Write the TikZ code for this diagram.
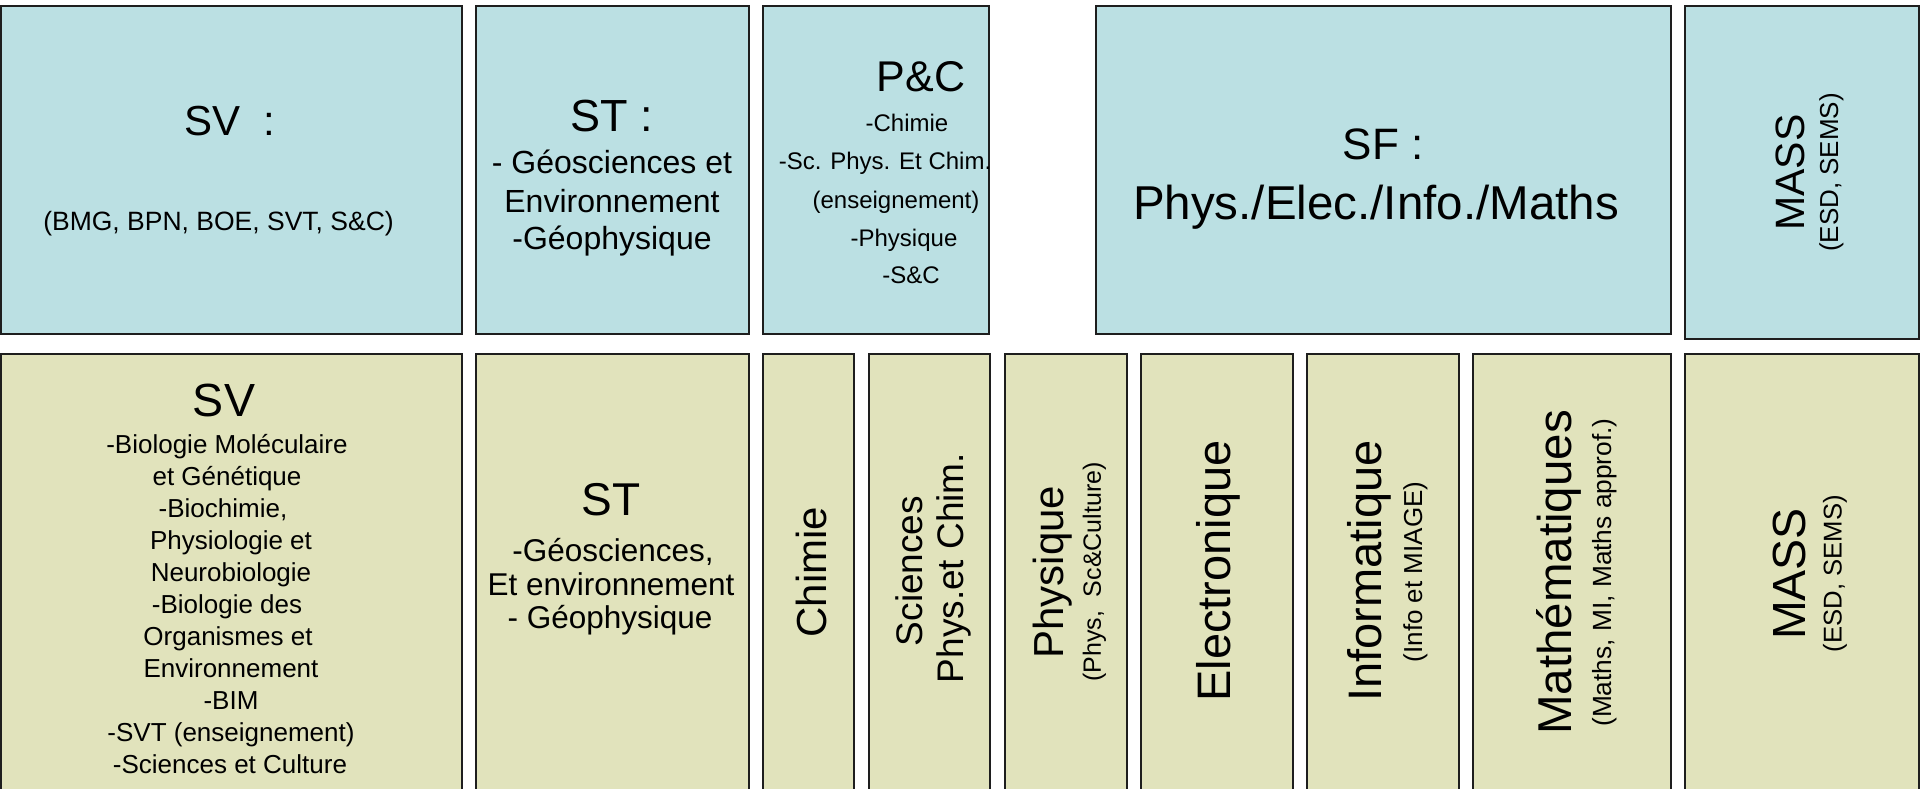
\documentclass[tikz,border=0pt]{standalone}
\usepackage{fontspec}
\setmainfont{Liberation Sans}
\definecolor{topfill}{HTML}{BBE0E3}
\definecolor{botfill}{HTML}{E1E3BC}
\definecolor{edge}{HTML}{1E1E1E}
\newcommand\fsz[1]{\fontsize{#1}{#1}\selectfont}
\tikzset{
  cell/.style={draw=edge, line width=2.2pt, outer sep=0pt, inner sep=0pt},
  topbox/.style={cell, fill=topfill},
  botbox/.style={cell, fill=botfill},
  lbl/.style={inner sep=0pt, anchor=base, text=black},
  rlbl/.style={inner sep=0pt, rotate=90, anchor=center, text=black},
}
\begin{document}
\begin{tikzpicture}[x=1pt, y=-1pt]
\useasboundingbox (0,0) rectangle (1920,789);
\clip (0,0) rectangle (1920,789);
% ---------- top row ----------
\node[topbox, minimum width=461pt, minimum height=328pt] (tSV)   at (231.5,170) {};
\node[topbox, minimum width=273pt, minimum height=328pt] (tST)   at (612.5,170) {};
\node[topbox, minimum width=226pt, minimum height=328pt] (tPC)   at (876,170) {};
\node[topbox, minimum width=575pt, minimum height=328pt] (tSF)   at (1383.5,170) {};
\node[topbox, minimum width=234pt, minimum height=333pt] (tMASS) at (1802,172.5) {};
% ---------- bottom row ----------
\node[botbox, minimum width=461pt, minimum height=456pt] (bSV) at (231.5,582) {};
\node[botbox, minimum width=273pt, minimum height=456pt] (bST) at (612.5,582) {};
\node[botbox, minimum width=91pt,  minimum height=456pt] (bCh) at (808.5,582) {};
\node[botbox, minimum width=121pt, minimum height=456pt] (bSc) at (929.5,582) {};
\node[botbox, minimum width=122pt, minimum height=456pt] (bPh) at (1066,582) {};
\node[botbox, minimum width=152pt, minimum height=456pt] (bEl) at (1217,582) {};
\node[botbox, minimum width=152pt, minimum height=456pt] (bIn) at (1383,582) {};
\node[botbox, minimum width=198pt, minimum height=456pt] (bMa) at (1572,582) {};
\node[botbox, minimum width=234pt, minimum height=456pt] (bMASS) at (1802,582) {};
% ---------- top labels ----------
\node[lbl, font=\fsz{42}] (tSVa) at (230,136) {SV\ \ :};
\node[lbl, font=\fsz{26.5}] (tSVb) at (218.5,230) {(BMG, BPN, BOE, SVT, S\&C)};
\node[lbl, font=\fsz{45}] (tSTa) at (612,132) {ST :};
\foreach \y/\t [count=\i] in {174/{- Géosciences et}, 212/{Environnement}, 249/{-Géophysique}}
  \node[lbl, font=\fsz{32}] (tSTl\i) at (612,\y) {\t};
\node[lbl, font=\fsz{43}] (tPCa) at (921,92) {P\&C};
\foreach \x/\y/\t [count=\i] in {907/132/{-Chimie}, 885/170/{-Sc. Phys. Et Chim.}, 896/208/{(enseignement)}, 904/246/{-Physique}, 911/283/{-S\&C}}
  \node[lbl, font=\fsz{24}] (tPCl\i) at (\x,\y) {\t};
\node[lbl, font=\fsz{44}] (tSFa) at (1383,160) {SF :};
\node[lbl, font=\fsz{47.5}] (tSFb) at (1376,219) {Phys./Elec./Info./Maths};
\node[rlbl, font=\fsz{41}] (tMa) at (1790,172.5) {MASS};
\node[rlbl, font=\fsz{26}] (tMb) at (1831.5,172.5) {(ESD, SEMS)};
% ---------- bottom labels ----------
\node[lbl, font=\fsz{46.5}] (bSVa) at (224,416) {SV};
\foreach \x/\y/\t [count=\i] in {227/453/{-Biologie Moléculaire}, 227/485/{et Génétique}, 223/517/{-Biochimie,}, 231/549/{Physiologie et}, 231/581/{Neurobiologie}, 227/613/{-Biologie des}, 228/645/{Organismes et}, 231/677/{Environnement}, 231/709/{-BIM}, 231/741/{-SVT (enseignement)}, 230/773/{-Sciences et Culture}}
  \node[lbl, font=\fsz{26}] (bSVl\i) at (\x,\y) {\t};
\node[lbl, font=\fsz{46}] (bSTa) at (611,515) {ST};
\foreach \x/\y/\t [count=\i] in {613/561/{-Géosciences,}, 611/595/{Et environnement}, 610/628/{- Géophysique}}
  \node[lbl, font=\fsz{31.5}] (bSTl\i) at (\x,\y) {\t};
\node[rlbl, font=\fsz{42}] (bChL) at (811.5,572) {Chimie};
\node[rlbl, font=\fsz{37}] (bScL1) at (909,571) {Sciences};
\node[rlbl, font=\fsz{37}] (bScL2) at (954,568) {Phys.et Chim.};
\node[rlbl, font=\fsz{42}] (bPhL1) at (1052.5,572) {Physique};
\node[rlbl, font=\fsz{25}] (bPhL2) at (1094.5,572) {(Phys,\ \ Sc\&Culture)};
\node[rlbl, font=\fsz{47}] (bElL) at (1218.5,571) {Electronique};
\node[rlbl, font=\fsz{47}] (bInL1) at (1369.5,571) {Informatique};
\node[rlbl, font=\fsz{26}] (bInL2) at (1415.5,572) {(Info et MIAGE)};
\node[rlbl, font=\fsz{47.5}] (bMaL1) at (1558.5,572.5) {Mathématiques};
\node[rlbl, font=\fsz{26.3}] (bMaL2) at (1605,572.5) {(Maths, MI, Maths approf.)};
\node[rlbl, font=\fsz{46.5}] (bMASSL1) at (1789.5,574) {MASS};
\node[rlbl, font=\fsz{25.7}] (bMASSL2) at (1835,573.5) {(ESD, SEMS)};
\end{tikzpicture}
\end{document}
